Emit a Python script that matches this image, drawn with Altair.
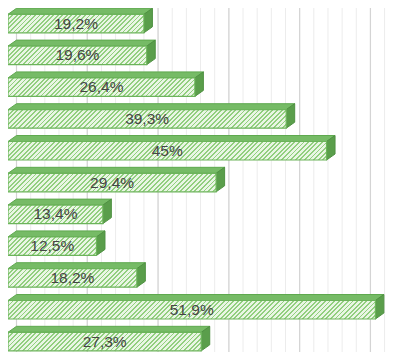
import altair as alt
import pandas as pd

# ---- data ----
values = [19.2, 19.6, 26.4, 39.3, 45, 29.4, 13.4, 12.5, 18.2, 51.9, 27.3]
labels = ["19,2%", "19,6%", "26,4%", "39,3%", "45%", "29,4%",
          "13,4%", "12,5%", "18,2%", "51,9%", "27,3%"]
minor_ticks = list(range(0, 54, 2))
major_ticks = [0, 10, 20, 30, 40, 50]

# ---- geometry / style ----
W, H = 378, 344
XMAX = 53.4
PITCH_PX = 31.8
YMAX = H / PITCH_PX
PX = W / XMAX
DX_PX, DY_PX = 8.5, 6.0
FRONT_PX = 18.5
dx = DX_PX / PX
T = DY_PX / PITCH_PX
F = FRONT_PX / PITCH_PX
TOP0 = 0.01
STRIPE = "#92cf7f"
LIGHT = "#e9f6e4"

xs = alt.Scale(domain=[0, XMAX], nice=False, zero=False)
ys = alt.Scale(domain=[0, YMAX], nice=False, zero=False, reverse=True)

front_rows, top_rows, side_rows = [], [], []
for i, (v, lab) in enumerate(zip(values, labels)):
    ft = i + TOP0 + T
    fb = ft + F
    front_rows.append(dict(bar=i, v=v, x0=0.0, ft=ft, fb=fb, mid=(ft + fb) / 2,
                           xm=v / 2, label=lab))
    top_rows.append(dict(bar=i, y=ft, x=0.0, x2=v))
    top_rows.append(dict(bar=i, y=ft - T, x=dx, x2=v + dx))
    side_rows.append(dict(bar=i, x=v, y=ft, y2=fb))
    side_rows.append(dict(bar=i, x=v + dx, y=ft - T, y2=fb - T))

front = pd.DataFrame(front_rows)
top = pd.DataFrame(top_rows)
side = pd.DataFrame(side_rows)

minor = alt.Chart(pd.DataFrame({"t": minor_ticks})).mark_rule(
    color="#ececec", strokeWidth=1, xOffset=DX_PX
).encode(x=alt.X("t:Q", scale=xs, axis=None), y=alt.value(0), y2=alt.value(H))

major = alt.Chart(pd.DataFrame({"t": major_ticks})).mark_rule(
    color="#d4d4d4", strokeWidth=1.2, xOffset=DX_PX
).encode(x=alt.X("t:Q", scale=xs, axis=None), y=alt.value(0), y2=alt.value(H))

top_face = alt.Chart(top).mark_area(
    orient="horizontal", fill="#76bb66", stroke="#5ea84e", strokeWidth=1
).encode(
    y=alt.Y("y:Q", scale=ys, axis=None),
    x=alt.X("x:Q", scale=xs, axis=None, stack=None),
    x2="x2:Q",
    detail="bar:N",
)

side_face = alt.Chart(side).mark_area(
    orient="vertical", fill="#5a9e4b", stroke="#4f9142", strokeWidth=1
).encode(
    x=alt.X("x:Q", scale=xs, axis=None),
    y=alt.Y("y:Q", scale=ys, axis=None, stack=None),
    y2="y2:Q",
    detail="bar:N",
)

layers = [minor, major, top_face, side_face]

for i, row in front.iterrows():
    w = row["v"] * PX
    h = FRONT_PX
    r = h / w
    a = (1 + r) / (1 + r * r)
    n = max(1, int(round((w + h) / 4.6)))
    stops = []
    for k in range(n):
        t0 = k / n
        t1 = (k + 0.4) / n
        t2 = (k + 1) / n
        stops += [
            alt.GradientStop(offset=t0, color=STRIPE),
            alt.GradientStop(offset=t1, color=STRIPE),
            alt.GradientStop(offset=t1, color=LIGHT),
            alt.GradientStop(offset=t2, color=LIGHT),
        ]
    grad = alt.LinearGradient(gradient="linear", stops=stops,
                              x1=0, y1=0, x2=a, y2=a * r)
    rect = alt.Chart(front[front["bar"] == i]).mark_rect(
        fill=grad, stroke="#6cb45b", strokeWidth=1.2
    ).encode(
        x=alt.X("x0:Q", scale=xs, axis=None),
        x2="v:Q",
        y=alt.Y("ft:Q", scale=ys, axis=None),
        y2="fb:Q",
    )
    layers.append(rect)

text = alt.Chart(front).mark_text(
    font="Liberation Sans", fontSize=15.5, color="#454545",
    align="center", baseline="middle"
).encode(
    x=alt.X("xm:Q", scale=xs, axis=None),
    y=alt.Y("mid:Q", scale=ys, axis=None),
    text="label:N",
)
layers.append(text)

chart = alt.layer(*layers).properties(
    width=W, height=H, padding=0, autosize="none", background="white"
).configure_view(stroke=None)

chart.save("out.html", embed_options={"renderer": "svg", "actions": False})
